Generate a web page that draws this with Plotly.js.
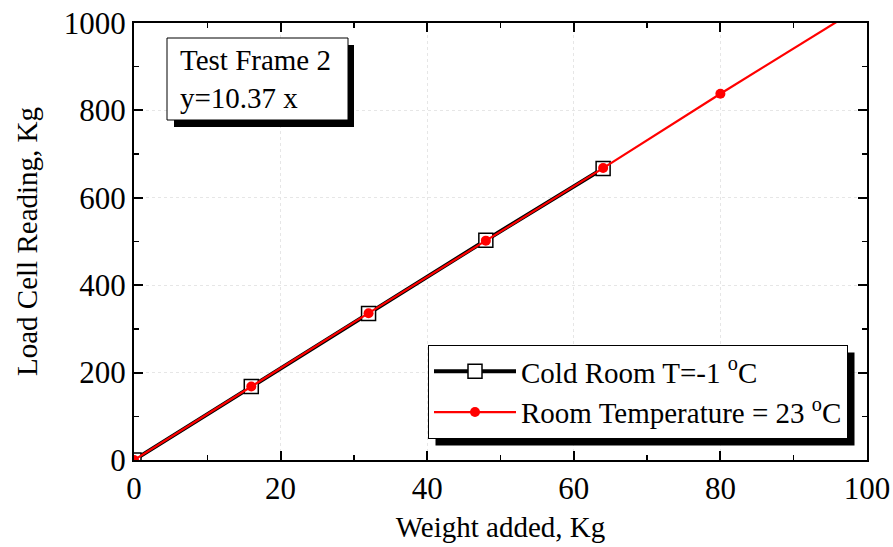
<!DOCTYPE html>
<html><head><meta charset="utf-8">
<script src="https://cdn.plot.ly/plotly-3.0.1.min.js"></script>
<style>body{margin:0;background:#fff}#c{width:893px;height:547px}</style>
</head><body><div id="c"></div>
<script>
const coldX = [0, 16, 32, 48, 64];
const coldY = [0, 168, 335, 503, 667];
const roomX = [0, 16, 32, 48, 64, 80];
const roomY = [0, 168, 336, 502, 668, 838];
const fitX = [80, 96];
const fitY = [838, 1004];
const xTicks = [0, 20, 40, 60, 80, 100];
const yTicks = [0, 200, 400, 600, 800, 1000];

const F = 'Liberation Serif, Times New Roman, serif';
const FS = 29, TFS = 31;
const L = 134, R = 867, T = 23, B = 460;
const px = v => (v - L) / (R - L);
const py = v => (B - v) / (B - T);

const traces = [
  {x: coldX, y: coldY, mode: 'lines+markers', name: 'Cold Room T=-1 <sup>o</sup>C',
   line: {color: '#000', width: 4},
   marker: {symbol: 'square', size: 14, color: '#fff', line: {color: '#000', width: 1.5}}},
  {x: roomX, y: roomY, mode: 'lines+markers', name: 'Room Temperature = 23 <sup>o</sup>C',
   line: {color: '#ff0000', width: 2.2},
   marker: {symbol: 'circle', size: 10, color: '#ff0000'}},
  {x: fitX, y: fitY, mode: 'lines', showlegend: false, hoverinfo: 'skip',
   line: {color: '#ff0000', width: 2.2}}
];

const axisCommon = {
  showline: true, linecolor: '#000', linewidth: 2, mirror: 'ticks',
  ticks: 'inside', ticklen: 9, tickwidth: 2, tickcolor: '#000',
  showgrid: true, gridcolor: '#e6e6e6', griddash: 'dot', gridwidth: 1,
  zeroline: false, tickfont: {family: F, size: TFS, color: '#000'},
  minor: {ticks: 'inside', ticklen: 5, tickwidth: 1.5, tickcolor: '#000', showgrid: false}
};

const layout = {
  width: 893, height: 547,
  margin: {l: L, r: 893 - R, t: T, b: 547 - B},
  paper_bgcolor: '#fff', plot_bgcolor: '#fff',
  font: {family: F, color: '#000'},
  xaxis: Object.assign({}, axisCommon, {range: [0, 100], tickvals: xTicks,
    minor: Object.assign({}, axisCommon.minor, {dtick: 10, tick0: 0}),
    title: {text: 'Weight added, Kg', font: {family: F, size: FS, color: '#000'}, standoff: 11}}),
  yaxis: Object.assign({}, axisCommon, {range: [0, 1000], tickvals: yTicks,
    minor: Object.assign({}, axisCommon.minor, {dtick: 100, tick0: 0}),
    title: {text: 'Load Cell Reading, Kg', font: {family: F, size: FS, color: '#000'}, standoff: 18}}),
  showlegend: true,
  legend: {x: px(848), y: py(345), xanchor: 'right', yanchor: 'top',
    bgcolor: '#fff', bordercolor: '#000', borderwidth: 1,
    font: {family: F, size: FS, color: '#000'}, itemwidth: 82},
  shapes: [
    {type: 'rect', xref: 'paper', yref: 'paper', x0: px(174), x1: px(354), y0: py(127), y1: py(45),
     fillcolor: '#000', line: {width: 0}, layer: 'above'},
    {type: 'rect', xref: 'paper', yref: 'paper', x0: px(167), x1: px(348), y0: py(120), y1: py(38),
     fillcolor: '#fff', line: {color: '#000', width: 1}, layer: 'above'},
    {type: 'rect', xref: 'paper', yref: 'paper', x0: px(435), x1: px(855), y0: py(437), y1: py(352),
     fillcolor: '#000', line: {width: 0}, layer: 'above'}
  ],
  annotations: [
    {xref: 'paper', yref: 'paper', x: px(178), y: py(79), xanchor: 'left', yanchor: 'middle',
     align: 'left', showarrow: false, text: 'Test Frame 2<br>y=10.37 x',
     font: {family: F, size: FS, color: '#000'}}
  ]
};

Plotly.newPlot('c', traces, layout, {displayModeBar: false, staticPlot: true}).then(gd => {
  const bg = gd.querySelector('.legend .bg');
  if (!bg) return;
  const r = bg.getBoundingClientRect();
  const c = gd.getBoundingClientRect();
  const x0 = r.left - c.left, y0 = r.top - c.top, x1 = r.right - c.left, y1 = r.bottom - c.top;
  const d = 7;
  return Plotly.relayout(gd, {
    'shapes[2].x0': px(x0 + d), 'shapes[2].x1': px(x1 + d),
    'shapes[2].y0': py(y1 + d), 'shapes[2].y1': py(y0 + d)
  });
});
</script></body></html>
